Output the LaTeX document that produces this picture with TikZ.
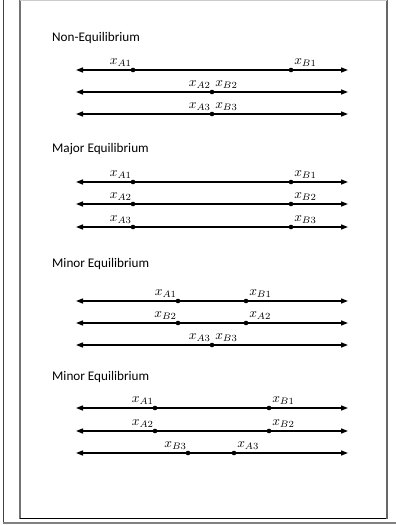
\documentclass[tikz,border=0pt]{standalone}
\usepackage{fontspec}
\setmainfont{Carlito}
\usetikzlibrary{arrows.meta}
\begin{document}
\begin{tikzpicture}[x=1pt,y=-1pt,
  axis/.style={line width=1.3pt,{Triangle[length=7pt,width=5pt]}-{Triangle[length=7pt,width=5pt]}},
  dot/.style={circle,fill=black,inner sep=0pt,minimum size=4.6pt},
  lblL/.style={anchor=south east,inner sep=0pt,xshift=-1pt,yshift=3.5pt,scale=1.35},
  lblR/.style={anchor=south west,inner sep=0pt,xshift=3pt,yshift=3.5pt,scale=1.35},
  title/.style={anchor=base west,inner sep=0pt,font=\fontsize{13.2}{16}\selectfont},
  frameline/.style={line width=1.6pt,draw=black!55}]
\useasboundingbox (0,0) rectangle (396,525);
% frames
\coordinate (o1) at (3.5,0); \coordinate (o2) at (3.5,523);
\draw[line width=0.9pt,black!75] (o1) -- (o2);
\coordinate (g1) at (3,522.5); \coordinate (g2) at (396,522.5);
\draw[line width=2pt,black!50] (g1) -- (g2);
\coordinate (f1) at (20,0); \coordinate (f2) at (20,518.5);
\coordinate (f3) at (387,518.5); \coordinate (f4) at (387,0);
\draw[frameline] (f1) -- (f2);
\draw[line width=1.2pt,black] (f2) -- (f3);
\draw[line width=2pt,black!60] (f3) -- (f4);
\draw[line width=0.8pt,black!20] (f4) -- (f1);
% Section 1
\node[title] (t1) at (52,41) {Non-Equilibrium};
\coordinate (l11) at (76,70); \coordinate (r11) at (348,70);
\draw[axis] (l11) -- (r11);
\node[dot] (a11) at (133,70) {}; \node[dot] (b11) at (291,70) {};
\node[lblL] at (a11) {$x_{A1}$}; \node[lblR] at (b11) {$x_{B1}$};
\coordinate (l12) at (76,92); \coordinate (r12) at (348,92);
\draw[axis] (l12) -- (r12);
\node[dot] (a12) at (212,92) {};
\node[lblL] at (a12) {$x_{A2}$}; \node[lblR] at (a12) {$x_{B2}$};
\coordinate (l13) at (76,114); \coordinate (r13) at (348,114);
\draw[axis] (l13) -- (r13);
\node[dot] (a13) at (212,114) {};
\node[lblL] at (a13) {$x_{A3}$}; \node[lblR] at (a13) {$x_{B3}$};
% Section 2
\node[title] (t2) at (52,152) {Major Equilibrium};
\coordinate (l21) at (76,182); \coordinate (r21) at (348,182);
\draw[axis] (l21) -- (r21);
\node[dot] (a21) at (133,182) {}; \node[dot] (b21) at (291,182) {};
\node[lblL] at (a21) {$x_{A1}$}; \node[lblR] at (b21) {$x_{B1}$};
\coordinate (l22) at (76,204); \coordinate (r22) at (348,204);
\draw[axis] (l22) -- (r22);
\node[dot] (a22) at (133,204) {}; \node[dot] (b22) at (291,204) {};
\node[lblL] at (a22) {$x_{A2}$}; \node[lblR] at (b22) {$x_{B2}$};
\coordinate (l23) at (76,227); \coordinate (r23) at (348,227);
\draw[axis] (l23) -- (r23);
\node[dot] (a23) at (133,227) {}; \node[dot] (b23) at (291,227) {};
\node[lblL] at (a23) {$x_{A3}$}; \node[lblR] at (b23) {$x_{B3}$};
% Section 3
\node[title] (t3) at (52,267) {Minor Equilibrium};
\coordinate (l31) at (76,301); \coordinate (r31) at (348,301);
\draw[axis] (l31) -- (r31);
\node[dot] (a31) at (178,301) {}; \node[dot] (b31) at (246,301) {};
\node[lblL] at (a31) {$x_{A1}$}; \node[lblR] at (b31) {$x_{B1}$};
\coordinate (l32) at (76,323); \coordinate (r32) at (348,323);
\draw[axis] (l32) -- (r32);
\node[dot] (b32) at (178,323) {}; \node[dot] (a32) at (246,323) {};
\node[lblL] at (b32) {$x_{B2}$}; \node[lblR] at (a32) {$x_{A2}$};
\coordinate (l33) at (76,345); \coordinate (r33) at (348,345);
\draw[axis] (l33) -- (r33);
\node[dot] (a33) at (212,345) {};
\node[lblL] at (a33) {$x_{A3}$}; \node[lblR] at (a33) {$x_{B3}$};
% Section 4
\node[title] (t4) at (52,380) {Minor Equilibrium};
\coordinate (l41) at (76,408); \coordinate (r41) at (348,408);
\draw[axis] (l41) -- (r41);
\node[dot] (a41) at (155,408) {}; \node[dot] (b41) at (269,408) {};
\node[lblL] at (a41) {$x_{A1}$}; \node[lblR] at (b41) {$x_{B1}$};
\coordinate (l42) at (76,431); \coordinate (r42) at (348,431);
\draw[axis] (l42) -- (r42);
\node[dot] (a42) at (155,431) {}; \node[dot] (b42) at (269,431) {};
\node[lblL] at (a42) {$x_{A2}$}; \node[lblR] at (b42) {$x_{B2}$};
\coordinate (l43) at (76,453); \coordinate (r43) at (348,453);
\draw[axis] (l43) -- (r43);
\node[dot] (b43) at (188,453) {}; \node[dot] (a43) at (234,453) {};
\node[lblL] at (b43) {$x_{B3}$}; \node[lblR] at (a43) {$x_{A3}$};
\end{tikzpicture}
\end{document}
